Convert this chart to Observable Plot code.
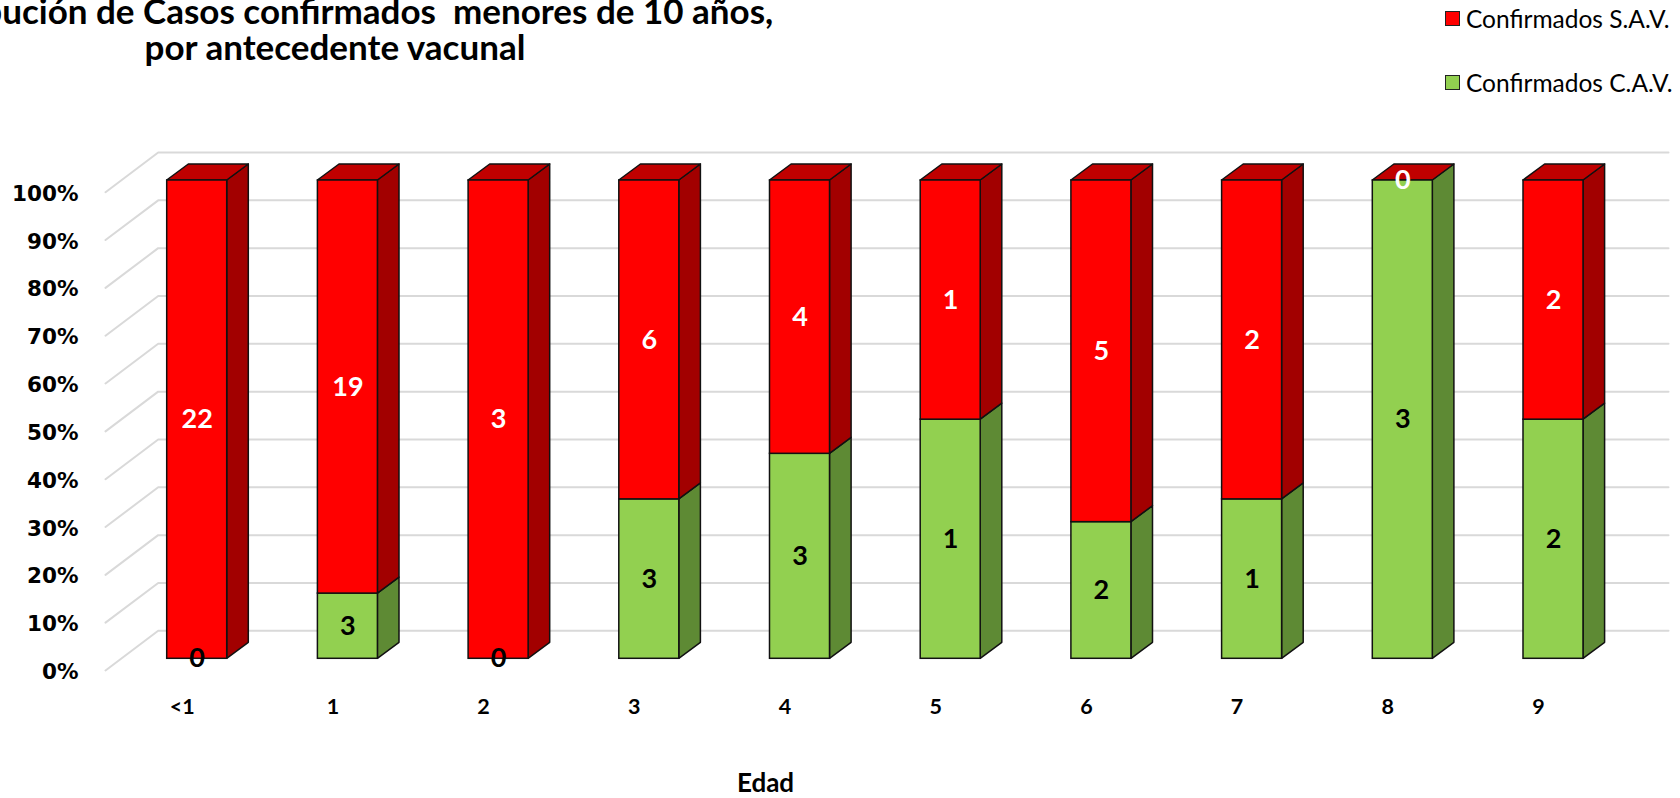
<!DOCTYPE html>
<html>
<head>
<meta charset="utf-8">
<script src="https://cdn.jsdelivr.net/npm/d3@7"></script>
<script src="https://cdn.jsdelivr.net/npm/@observablehq/plot@0.6"></script>
<style>
  html, body { margin: 0; padding: 0; background: #fff; overflow: hidden; }
  #wrap { position: relative; width: 1680px; height: 798px; overflow: hidden; }
  #header { position: relative; width: 1680px; height: 120px; overflow: hidden; }
  #title { position: absolute; left: -165px; top: -8px; width: 1000px; text-align: center;
           font-family: Lato, sans-serif; font-weight: bold; font-size: 35px; line-height: 36px; color: #000; white-space: pre; }
  .leg { position: absolute; left: 1445px; font-family: Lato, sans-serif; font-size: 24.5px; color: #000; white-space: nowrap; display: flex; align-items: center; }
  .sw { width: 13px; height: 13px; border: 1.5px solid #222; margin-right: 6px; }
  #chart svg { display: block; }
</style>
</head>
<body>
<div id="wrap">
  <div id="header">
    <div id="title"></div>
    <div id="legend"></div>
  </div>
  <div id="chart"></div>
</div>
<script>
// ---- data ----
const titleLines = ["Distribución de Casos confirmados  menores de 10 años,", "por antecedente vacunal"];
const ages = ["<1", "1", "2", "3", "4", "5", "6", "7", "8", "9"];
const cav = [0, 3, 0, 3, 3, 1, 2, 1, 3, 2];      // Confirmados C.A.V.
const sav = [22, 19, 3, 6, 4, 1, 5, 2, 0, 2];    // Confirmados S.A.V.
const yTicks = [0, 10, 20, 30, 40, 50, 60, 70, 80, 90, 100];
const seriesNames = ["Confirmados S.A.V.", "Confirmados C.A.V."];
const xTitle = "Edad";

// ---- colours ----
const C = {
  redFront: "#ff0000", redSide: "#a20000", redTop: "#c00000",
  greenFront: "#92d050", greenSide: "#5e8a34"
};

// ---- header ----
document.getElementById("title").innerHTML = titleLines.map(t => `<div>${t}</div>`).join("");
document.getElementById("legend").innerHTML =
  `<div class="leg" style="top:4px"><div class="sw" style="background:${C.redFront}"></div>${seriesNames[0]}</div>` +
  `<div class="leg" style="top:68px"><div class="sw" style="background:${C.greenFront}"></div>${seriesNames[1]}</div>`;

// ---- geometry (pixel sizes converted to data units through the scales' ranges) ----
const W = 1680, H = 678;
const xRange = [196.7, 196.7 + 150.7 * 9];
const yRange = [538.3, 60];
const kx = (ages.length - 1) / (xRange[1] - xRange[0]);
const ky = 100 / (yRange[0] - yRange[1]);
const HW = 30 * kx, DX = 21.6 * kx, DY = 16 * ky;

// stacked percentage segments
const segments = [];
ages.forEach((a, i) => {
  const t = cav[i] + sav[i];
  const g = cav[i] / t * 100;
  segments.push({i, y1: 0, y2: g, v: cav[i], s: "C"});
  segments.push({i, y1: g, y2: 100, v: sav[i], s: "S"});
});

const sideData = segments.filter(d => d.y2 > d.y1).flatMap((d, k) => [
  {k, s: d.s, x: d.i + HW, y1: d.y1, y2: d.y2},
  {k, s: d.s, x: d.i + HW + DX, y1: d.y1 + DY, y2: d.y2 + DY}
]);
const topData = ages.flatMap((a, i) => [
  {i, y: 100, x1: i - HW, x2: i + HW},
  {i, y: 100 + DY, x1: i - HW + DX, x2: i + HW + DX}
]);

// 3D wall gridlines
const gxFront = (105 - xRange[0]) * kx, gxBack = (157.7 - xRange[0]) * kx, gxRight = (1668 - xRange[0]) * kx;
const gridData = yTicks.flatMap(v => [
  {v, x: gxFront, y: v - 11.7 * ky},
  {v, x: gxBack, y: v + 28 * ky},
  {v, x: gxRight, y: v + 28 * ky}
]);

const chart = Plot.plot({
  width: W,
  height: H,
  marginLeft: 88,
  marginRight: 0,
  marginTop: 0,
  marginBottom: 102,
  style: {background: "#fff", overflow: "visible"},
  x: {type: "linear", domain: [0, ages.length - 1], range: xRange},
  y: {type: "linear", domain: [0, 100], range: yRange},
  marks: [
    Plot.line(gridData, {x: "x", y: "y", z: "v", stroke: "#d9d9d9", strokeWidth: 2, curve: "linear"}),
    Plot.areaY(sideData.filter(d => d.s === "C"), {x: "x", y1: "y1", y2: "y2", z: "k", fill: C.greenSide, stroke: "#111", strokeWidth: 1.5, curve: "linear"}),
    Plot.areaY(sideData.filter(d => d.s === "S"), {x: "x", y1: "y1", y2: "y2", z: "k", fill: C.redSide, stroke: "#111", strokeWidth: 1.5, curve: "linear"}),
    Plot.areaX(topData, {y: "y", x1: "x1", x2: "x2", z: "i", fill: C.redTop, stroke: "#111", strokeWidth: 1.5, curve: "linear"}),
    Plot.rect(segments.filter(d => d.s === "C" && d.y2 > d.y1), {x1: d => d.i - HW, x2: d => d.i + HW, y1: "y1", y2: "y2", fill: C.greenFront, stroke: "#111", strokeWidth: 1.5}),
    Plot.rect(segments.filter(d => d.s === "S" && d.y2 > d.y1), {x1: d => d.i - HW, x2: d => d.i + HW, y1: "y1", y2: "y2", fill: C.redFront, stroke: "#111", strokeWidth: 1.5}),
    Plot.text(segments.filter(d => d.s === "C"), {x: "i", y: d => (d.y1 + d.y2) / 2, text: d => String(d.v), fill: "#000", fontSize: 27, fontWeight: "bold", fontFamily: "Lato"}),
    Plot.text(segments.filter(d => d.s === "S"), {x: "i", y: d => (d.y1 + d.y2) / 2, text: d => String(d.v), fill: "#fff", fontSize: 27, fontWeight: "bold", fontFamily: "Lato"}),
    Plot.axisY({ticks: yTicks, tickFormat: d => d + "%", tickSize: 0, tickPadding: 10, dy: 13.4, fontSize: 21.5, fontWeight: "bold", fontFamily: "DejaVu Sans", fill: "#000"}),
    Plot.axisX({ticks: d3.range(ages.length), tickFormat: i => ages[i], tickSize: 0, tickPadding: 2, dx: -15, fontSize: 21.5, fontWeight: "bold", fontFamily: "Lato", fill: "#000", label: null}),
    Plot.text([xTitle], {frameAnchor: "bottom", dx: -119, dy: 95, text: d => d, fontSize: 26, fontWeight: "bold", fontFamily: "Lato", fill: "#000"})
  ]
});
document.getElementById("chart").appendChild(chart);
</script>
</body>
</html>
